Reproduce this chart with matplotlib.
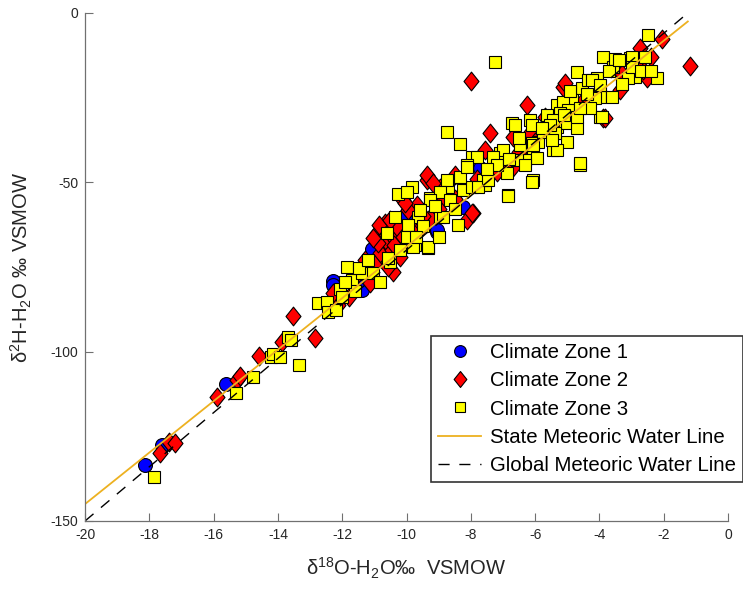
import matplotlib
matplotlib.use("Agg")
import matplotlib.pyplot as plt
import numpy as np
from matplotlib.path import Path

plt.rcParams['font.family'] = ['Liberation Sans', 'DejaVu Sans']
plt.rcParams['mathtext.fontset'] = 'custom'
plt.rcParams['mathtext.rm'] = 'Liberation Sans'
plt.rcParams['mathtext.it'] = 'Liberation Sans'

# ---------------- data ----------------
zone1_x = [-18.13, -17.6, -15.6, -12.3, -12.28, -11.4, -11.38, -11.07, -9.98, -10.05,
           -9.05, -8.24, -7.71, -9.05]
zone1_y = [-133.5, -127.6, -109.6, -79.1, -80.3, -80.9, -81.8, -69.7, -59.1, -60.3,
           -64.7, -57.3, -45.8, -64.0]

zone2_x = [-17.67, -17.4, -17.2, -15.9, -15.27, -15.18, -14.6, -13.87, -13.53, -12.85,
           -12.13, -12.28, -11.14, -10.76, -10.42, -10.57, -10.92, -10.73, -10.6, -10.36,
           -10.82, -10.45, -10.3, -10.1, -10.67, -10.1, -9.67, -9.95, -8.96, -9.67,
           -7.93, -9.36, -9.27, -8.12, -7.4, -6.69, -7.56, -6.16, -6.25, -5.69,
           -7.19, -6.69, -6.16, -9.36, -8.49, -8.96, -7.96, -9.74, -8.0, -2.05,
           -1.18, -2.52, -3.89, -5.13, -4.76, -2.74, -5.07, -6.1, -3.83, -3.36,
           -2.64, -9.18, -8.87, -11.8, -11.6, -11.0, -10.2, -9.5, -9.0, -8.5,
           -7.8, -7.0, -6.5, -6.0, -5.4, -4.5, -4.0, -3.3, -2.9, -2.4,
           -10.4, -10.9, -11.3, -10.05, -10.85, -10.5, -11.05, -9.85]
zone2_y = [-130.0, -126.7, -127.0, -113.4, -108.4, -107.2, -101.3, -97.2, -89.5, -96.0,
           -86.2, -82.7, -79.7, -71.5, -76.5, -75.0, -65.0, -63.5, -67.6, -67.0,
           -70.9, -70.0, -63.2, -66.2, -62.0, -55.2, -56.7, -58.2, -52.3, -65.0,
           -59.0, -49.3, -60.5, -61.1, -35.5, -36.6, -40.5, -35.5, -27.2, -30.7,
           -47.0, -45.5, -39.9, -47.8, -47.8, -51.7, -59.1, -64.7, -20.1, -7.7,
           -15.7, -19.2, -31.0, -21.9, -27.8, -10.3, -20.7, -39.6, -31.0, -22.7,
           -16.9, -50.2, -54.3, -84.0, -78.0, -74.0, -72.0, -60.0, -58.0, -55.0,
           -49.0, -44.0, -41.0, -38.0, -33.0, -26.0, -23.0, -18.0, -15.0, -13.0,
           -68.5, -68.0, -73.0, -56.1, -62.5, -61.0, -66.5, -64.0]

zone3_x = [-17.85, -15.3, -14.77, -14.2, -14.15, -13.93, -13.68, -13.6, -13.34, -12.75,
           -12.47, -12.44, -12.2, -12.07, -11.85, -11.7, -11.38, -11.48, -11.04, -10.82,
           -10.5, -10.57, -10.36, -9.74, -9.33, -9.64, -9.95, -9.83, -10.26, -9.27,
           -8.96, -8.4, -8.24, -8.7, -8.74, -8.34, -7.96, -7.09, -6.47, -6.07,
           -6.84, -7.56, -5.44, -6.72, -7.25, -2.49, -2.21, -2.9, -3.89, -3.58,
           -3.05, -3.1, -4.07, -4.54, -3.98, -3.6, -4.7, -4.35, -3.98, -4.6,
           -6.1, -6.84, -4.85, -5.32, -5.63, -5.32, -5.0, -4.7, -5.47, -5.9,
           -5.0, -5.32, -6.1, -6.63, -6.07, -7.0, -7.3, -7.8, -8.12, -7.62,
           -7.96, -8.34, -8.74, -8.96, -8.65, -9.27, -9.33, -9.8, -3.52, -2.98,
           -2.58, -4.23, -3.98, -4.14, -5.13, -4.98, -5.23, -4.7, -4.3, -3.92,
           -5.44, -5.38, -5.75, -5.47, -6.07, -6.16, -6.32, -4.6, -9.98, -9.58,
           -7.77, -7.46, -8.12, -6.87, -6.56, -5.94, -6.1, -5.53, -8.87, -4.9,
           -4.4, -3.3, -3.0, -2.7, -2.4, -3.7, -3.4, -5.8, -5.1, -4.6,
           -6.5, -6.3, -7.2, -7.5, -6.8, -8.5, -9.1, -9.5, -10.0, -10.2,
           -10.6, -11.2, -11.6, -12.0, -11.9, -9.7, -9.0]
zone3_y = [-137.0, -112.2, -107.5, -101.6, -100.7, -101.6, -95.7, -96.6, -104.0, -85.6,
           -85.3, -88.3, -87.7, -81.5, -75.0, -78.8, -76.8, -75.3, -76.8, -79.4,
           -73.5, -72.4, -60.2, -68.5, -69.4, -60.2, -62.6, -51.4, -53.5, -54.6,
           -60.2, -62.6, -52.3, -51.4, -35.2, -38.7, -42.5, -41.4, -39.0, -49.3,
           -53.8, -50.8, -40.5, -32.5, -14.4, -6.5, -19.2, -18.9, -13.0, -16.0,
           -13.3, -19.2, -19.2, -22.2, -24.8, -24.8, -17.4, -19.8, -30.7, -45.0,
           -50.0, -54.1, -25.7, -27.2, -30.1, -33.6, -32.5, -34.0, -36.0, -38.1,
           -38.1, -40.5, -38.4, -33.1, -42.0, -40.5, -42.5, -42.5, -44.9, -49.3,
           -51.4, -48.4, -49.3, -52.9, -55.2, -55.2, -69.1, -69.1, -13.6, -13.0,
           -13.0, -19.8, -21.3, -25.1, -26.3, -28.6, -29.5, -30.7, -28.1, -30.7,
           -31.6, -35.5, -35.2, -37.5, -39.0, -31.6, -43.4, -44.3, -52.9, -58.2,
           -51.4, -49.3, -45.5, -47.3, -43.4, -42.8, -33.1, -33.1, -60.2, -23.0,
           -24.0, -21.0, -16.0, -17.0, -17.0, -17.0, -14.0, -34.0, -30.0, -28.0,
           -37.0, -45.0, -45.0, -46.0, -43.0, -58.0, -57.0, -63.0, -66.0, -70.0,
           -65.0, -73.0, -82.0, -84.0, -79.5, -66.0, -66.0]

line_x = [-20.0, -1.25]
smwl_slope, smwl_int = 7.6, 7.0
gmwl_slope, gmwl_int = 8.0, 10.0

x_ticks = [-20, -18, -16, -14, -12, -10, -8, -6, -4, -2, 0]
y_ticks = [-150, -100, -50, 0]

labels = ['Climate Zone 1', 'Climate Zone 2', 'Climate Zone 3',
          'State Meteoric Water Line', 'Global Meteoric Water Line']

# ---------------- figure ----------------
fig = plt.figure(figsize=(7.43, 5.90), dpi=100)
ax = fig.add_axes([85/743, 1-521/590, (728-85)/743, (521-13)/590])

diamond = Path([(0, 1), (0.8, 0), (0, -1), (-0.8, 0), (0, 1)],
               [Path.MOVETO, Path.LINETO, Path.LINETO, Path.LINETO, Path.CLOSEPOLY])

h1, = ax.plot(zone1_x, zone1_y, 'o', ms=10, mfc='#0000FF', mec='black', mew=0.8, ls='none')
h2, = ax.plot(zone2_x, zone2_y, marker=diamond, ms=13.5, mfc='#FF0000', mec='black', mew=0.8, ls='none')
h3, = ax.plot(zone3_x, zone3_y, 's', ms=9.3, mfc='#FFFF00', mec='black', mew=0.8, ls='none')

lx = np.array(line_x)
h4, = ax.plot(lx, smwl_slope*lx + smwl_int, color='#EDB120', lw=1.3)
h5, = ax.plot(lx, gmwl_slope*lx + gmwl_int, color='black', lw=1.0, ls=(0, (8, 7)))

ax.set_xlim(-20, 0)
ax.set_ylim(-150, 0)
ax.set_xticks(x_ticks)
ax.set_yticks(y_ticks)
ax.set_xticklabels([str(t) for t in x_ticks])
ax.set_yticklabels([str(t) for t in y_ticks])

for s in ['top', 'right']:
    ax.spines[s].set_visible(False)
for s in ['left', 'bottom']:
    ax.spines[s].set_color('#707070')
    ax.spines[s].set_linewidth(0.9)
ax.tick_params(direction='in', length=6, width=0.8, color='#707070',
               labelsize=10, labelcolor='#262626', pad=5)

ax.set_xlabel('δ$^{18}$O-H$_2$O‰  VSMOW', fontsize=14.5, color='#262626', labelpad=10)
ax.set_ylabel('δ$^{2}$H-H$_2$O ‰ VSMOW', fontsize=14.5, color='#262626', labelpad=12)

leg = fig.legend([h1, h2, h3, h4, h5], labels, loc='upper left',
                 bbox_to_anchor=(431/743, 1-336/590), borderaxespad=0,
                 fontsize=14.7, frameon=True, fancybox=False, framealpha=1,
                 edgecolor='#333333', handlelength=2.1, handletextpad=0.45,
                 labelspacing=0.45, borderpad=0.35, markerscale=0.85)
leg.get_frame().set_linewidth(1.2)

fig.savefig('out.png', dpi=100)
